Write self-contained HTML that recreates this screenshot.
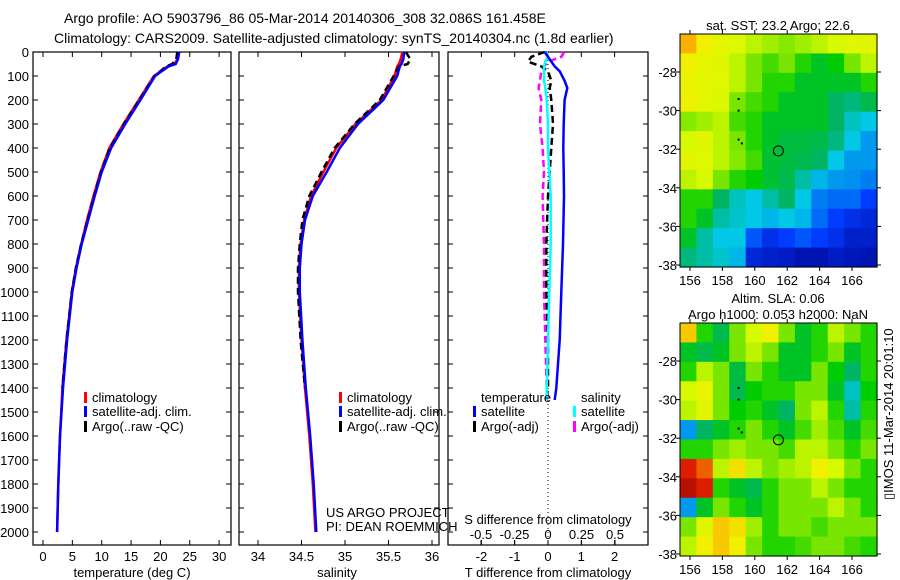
<!DOCTYPE html>
<html><head><meta charset="utf-8"><style>
body{margin:0;background:#fff}
svg{display:block;font-family:"Liberation Sans",sans-serif;font-size:13px}
</style></head><body>
<svg id="fig" width="900" height="580" viewBox="0 0 900 580">
<rect width="900" height="580" fill="#fff"/>
<text x="64" y="23" style="font-size:14px">Argo profile: AO 5903796_86 05-Mar-2014 20140306_308 32.086S 161.458E</text>
<text x="54" y="43" style="font-size:14px">Climatology: CARS2009. Satellite-adjusted climatology: synTS_20140304.nc (1.8d earlier)</text>
<g id="p1"></g>
<g id="p2"></g>
<g id="p3"></g>
<g id="m1"></g>
<g id="m2"></g>
<text transform="translate(893,500) rotate(-90)">▯IMOS 11-Mar-2014 20:01:10</text>
</svg>
<script>
// ---- data ----
const depths = [0,30,50,60,100,200,300,400,500,600,700,800,900,1000,1200,1400,1600,1800,2000];
const tempClim = [23.0,22.9,22.4,21.2,18.9,16.3,13.7,11.3,9.8,8.6,7.5,6.5,5.6,4.9,4.0,3.3,2.9,2.6,2.4];
const tempSat  = [23.2,23.0,22.6,21.4,19.1,16.6,14.0,11.6,10.0,8.8,7.7,6.6,5.7,5.0,4.1,3.4,2.9,2.6,2.4];
const tempArgo = [22.9,22.7,22.0,21.0,19.0,16.4,13.8,11.4,9.9,8.7,7.6,6.5,5.6,4.9,4.0,3.3];
const salClim = [35.66,35.64,35.62,35.60,35.57,35.42,35.12,34.90,34.75,34.61,34.53,34.49,34.47,34.47,34.50,34.54,34.59,34.63,34.66];
const salSat  = [35.68,35.67,35.65,35.63,35.60,35.44,35.15,34.94,34.79,34.63,34.54,34.50,34.48,34.48,34.51,34.55,34.60,34.64,34.67];
const salArgo = [35.70,35.75,35.72,35.62,35.56,35.40,35.11,34.88,34.73,34.59,34.51,34.48,34.46,34.46,34.49,34.54];
const diffDepths = [0,20,40,60,80,120,150,200,300,400,500,600,800,1000,1200,1400,1450];
const dTsat  = [-0.1,0.0,0.1,0.2,0.35,0.5,0.58,0.5,0.47,0.46,0.47,0.48,0.45,0.4,0.35,0.25,0.2];
const dTargo = [-0.1,-0.5,-0.6,-0.2,0.0,0.1,0.05,0.1,0.15,0.1,0.05,0.0,-0.05,-0.05,0.0,0.0,-0.05];
const dSsat  = [-0.01,0.0,-0.02,-0.03,-0.03,-0.03,-0.02,-0.01,0.0,0.0,0.01,0.02,0.02,0.01,0.0,-0.01,-0.01];
const dSargo = [0.12,0.1,0.0,-0.03,-0.05,-0.06,-0.07,-0.05,-0.06,-0.04,-0.03,-0.04,-0.03,-0.03,-0.02,-0.01,0.0];
const depthTicks = [0,100,200,300,400,500,600,700,800,900,1000,1100,1200,1300,1400,1500,1600,1700,1800,1900,2000];
const tempTicks = [0,5,10,15,20,25,30];
const salTicks = [34,34.5,35,35.5,36];
const salTickLabels = ["34","34.5","35","35.5","36"];
const dTTicks = [-2,-1,0,1,2];
const dSTicks = [-0.5,-0.25,0,0.25,0.5];
const dSTickLabels = ["-0.5","-0.25","0","0.25","0.5"];
const lonTicks = [156,158,160,162,164,166];
const latTicks = [-28,-30,-32,-34,-36,-38];
const sstGrid = [
[.78,.7,.66,.64,.6,.58,.56,.58,.6,.62,.64,.65],
[.7,.66,.65,.6,.55,.52,.55,.5,.45,.48,.55,.6],
[.68,.66,.64,.6,.55,.5,.5,.45,.45,.45,.45,.5],
[.7,.66,.63,.55,.52,.5,.45,.45,.45,.4,.38,.42],
[.56,.58,.6,.52,.5,.45,.45,.45,.45,.4,.33,.3],
[.62,.65,.6,.55,.5,.45,.43,.43,.42,.38,.3,.25],
[.65,.64,.6,.56,.52,.44,.43,.42,.4,.3,.25,.25],
[.6,.62,.55,.5,.48,.44,.42,.35,.28,.25,.24,.22],
[.5,.5,.4,.33,.3,.35,.4,.3,.22,.2,.2,.15],
[.5,.45,.35,.32,.3,.28,.3,.28,.2,.15,.12,.1],
[.45,.35,.3,.3,.18,.12,.15,.18,.15,.12,.08,.08],
[.38,.35,.32,.28,.1,.08,.07,.05,.05,.07,.06,.05]];
const slaGrid = [
[.75,.5,.42,.55,.62,.7,.55,.45,.5,.6,.55,.5],
[.45,.42,.45,.55,.6,.55,.45,.45,.5,.55,.45,.5],
[.5,.6,.55,.43,.55,.5,.45,.45,.55,.48,.4,.5],
[.62,.68,.55,.42,.48,.5,.5,.55,.55,.45,.33,.48],
[.6,.65,.55,.48,.5,.45,.4,.55,.6,.5,.35,.5],
[.25,.4,.45,.5,.55,.5,.45,.52,.58,.52,.45,.52],
[.5,.5,.55,.58,.55,.55,.52,.6,.6,.55,.5,.55],
[.9,.85,.6,.72,.6,.55,.58,.6,.7,.62,.55,.5],
[.95,.9,.5,.45,.42,.5,.55,.55,.6,.55,.5,.5],
[.25,.45,.55,.5,.45,.5,.55,.55,.55,.6,.55,.5],
[.55,.65,.75,.72,.58,.5,.55,.55,.52,.55,.55,.55],
[.6,.7,.75,.7,.55,.5,.5,.52,.55,.55,.52,.5]];
const floatLon = [161.458];
const floatLat = [-32.086];
const trackLon = [159.0,159.0,159.0,159.2];
const trackLat = [-29.4,-30.0,-31.5,-31.7];

// ---- helpers ----
const NS="http://www.w3.org/2000/svg";
function mk(parent,tag,attrs,text){const e=document.createElementNS(NS,tag);for(const k in attrs)e.setAttribute(k,attrs[k]);if(text!==undefined)e.textContent=text;parent.appendChild(e);return e;}
const Y0=52,Y1=545;
const yDepth=d=>Y0+d*0.24;
function frame(g,x0,x1,y0,y1){const r=mk(g,'rect',{x:x0,y:y0,width:x1-x0,height:y1-y0,fill:'none',stroke:'#000','stroke-width':1.2});}
function depthAxis(g,x0,x1,labels){
  depthTicks.forEach(d=>{const y=yDepth(d);
    mk(g,'line',{x1:x0,x2:x0+5,y1:y,y2:y,stroke:'#000'});mk(g,'line',{x1:x1,x2:x1-5,y1:y,y2:y,stroke:'#000'});
    if(labels){const t=mk(g,'text',{x:x0-4,y:y+5,'text-anchor':'end'},d);}
  });
}
function xTicks(g,vals,labs,sx,y,labY,top){
  vals.forEach((v,i)=>{const x=sx(v);mk(g,'line',{x1:x,x2:x,y1:y,y2:y-5,stroke:'#000'});if(top!==undefined)mk(g,'line',{x1:x,x2:x,y1:top,y2:top+5,stroke:'#000'});
    if(labY){const t=mk(g,'text',{x:x,y:labY,'text-anchor':'middle'},labs[i]);}});
}
function line(g,xs,ds,sx,color,dash,name,w){
  const pts=xs.map((v,i)=>sx(v).toFixed(1)+','+yDepth(ds[i]).toFixed(1)).join(' ');
  const p=mk(g,'polyline',{points:pts,fill:'none',stroke:color,'stroke-width':w||2.5});
  if(dash)p.setAttribute('stroke-dasharray',dash);
  
  
}
function legend(g,x,y,color,label){
  mk(g,'rect',{x:x,y:y-10,width:3,height:11,fill:color});
  const t=mk(g,'text',{x:x+8,y:y},label);
  
  
}

// ---- panel 1 ----
const g1=document.getElementById('p1');
const sT=v=>43+v*5.87;
frame(g1,33,231,Y0,Y1);depthAxis(g1,33,231,true);
xTicks(g1,tempTicks,tempTicks,sT,Y1,561,Y0);
mk(g1,'text',{x:132,y:577,'text-anchor':'middle'},'temperature (deg C)');
line(g1,tempClim,depths,sT,'#f00',null,'temperature-climatology-line');
line(g1,tempArgo,depths.slice(0,tempArgo.length),sT,'#000','7,4','temperature-argo-line');
line(g1,tempSat,depths,sT,'#00f',null,'temperature-satellite-line');
legend(g1,84,402,'#f00','climatology');legend(g1,84,416,'#00f','satellite-adj. clim.');legend(g1,84,431,'#000','Argo(..raw -QC)');

// ---- panel 2 ----
const g2=document.getElementById('p2');
const sS=v=>258+(v-34)*87;
frame(g2,239,439,Y0,Y1);depthAxis(g2,239,439,false);
xTicks(g2,salTicks,salTickLabels,sS,Y1,561,Y0);
mk(g2,'text',{x:337,y:577,'text-anchor':'middle'},'salinity');
line(g2,salClim,depths,sS,'#f00',null,'salinity-climatology-line');
line(g2,salArgo,depths.slice(0,salArgo.length),sS,'#000','7,4','salinity-argo-line');
line(g2,salSat,depths,sS,'#00f',null,'salinity-satellite-line');
legend(g2,339,402,'#f00','climatology');legend(g2,339,416,'#00f','satellite-adj. clim.');legend(g2,339,431,'#000','Argo(..raw -QC)');
mk(g2,'text',{x:326,y:517},'US ARGO PROJECT');
mk(g2,'text',{x:326,y:531},'PI: DEAN ROEMMICH');

// ---- panel 3 ----
const g3=document.getElementById('p3');
const sDT=v=>548+v*33.3, sDS=v=>548+v*134;
frame(g3,448,648,Y0,Y1);depthAxis(g3,448,648,false);
xTicks(g3,dTTicks,dTTicks,sDT,Y1,561,Y0);
xTicks(g3,dSTicks,dSTickLabels,sDS,Y1,539);
mk(g3,'text',{x:548,y:524,'text-anchor':'middle'},'S difference from climatology');
mk(g3,'text',{x:548,y:577,'text-anchor':'middle'},'T difference from climatology');
mk(g3,'line',{x1:548,x2:548,y1:Y0,y2:Y1,stroke:'#000','stroke-dasharray':'1,3'});
line(g3,dSargo,diffDepths,sDS,'#f0f','7,4','salinity-argo-diff-line');
line(g3,dTargo,diffDepths,sDT,'#000','7,4','temperature-argo-diff-line');
line(g3,dSsat,diffDepths,sDS,'#0ff',null,'salinity-satellite-diff-line');
line(g3,dTsat,diffDepths,sDT,'#00f',null,'temperature-satellite-diff-line');
mk(g3,'text',{x:481,y:402},'temperature');mk(g3,'text',{x:581,y:402},'salinity');
legend(g3,473,416,'#00f','satellite');legend(g3,473,431,'#000','Argo(-adj)');
legend(g3,573,416,'#0ff','satellite');legend(g3,573,431,'#f0f','Argo(-adj)');

// ---- maps ----
const cmapStops=[[0,0,0,140],[0.15,0,60,255],[0.3,0,200,230],[0.4,0,180,100],[0.48,0,205,0],[0.55,120,230,0],[0.62,215,250,0],[0.7,240,240,0],[0.8,255,160,0],[0.9,220,30,0],[1,150,0,0]];
function cmap(v){v=Math.max(0,Math.min(1,v));
  for(let i=1;i<cmapStops.length;i++){const a=cmapStops[i-1],b=cmapStops[i];
    if(v<=b[0]){const t=(v-a[0])/(b[0]-a[0]);return 'rgb('+[1,2,3].map(k=>Math.round(a[k]+(b[k]-a[k])*t)).join(',')+')';}}
  return 'rgb(150,0,0)';}
function map(g,grid,top,titles){
  const L=680,R=877,T=top,B=top+233;
  const sx=v=>690+(v-156)*16.2, sy=v=>T+38+(-28-v)*19.3;
  const nr=grid.length,nc=grid[0].length,cw=(R-L)/nc,ch=(B-T)/nr;
  grid.forEach((row,i)=>row.forEach((v,j)=>{
    const c=mk(g,'rect',{x:L+j*cw,y:T+i*ch,width:cw+0.6,height:ch+0.6,fill:cmap(v)});
    
    
  }));
  mk(g,'rect',{x:L,y:T,width:R-L,height:B-T,fill:'none',stroke:'#000'});
  lonTicks.forEach(v=>{const x=sx(v);mk(g,'line',{x1:x,x2:x,y1:B,y2:B+4,stroke:'#000'});mk(g,'line',{x1:x,x2:x,y1:T,y2:T-4,stroke:'#000'});
    mk(g,'text',{x:x,y:B+18,'text-anchor':'middle'},v);});
  latTicks.forEach(v=>{const y=sy(v);mk(g,'line',{x1:L,x2:L-4,y1:y,y2:y,stroke:'#000'});mk(g,'line',{x1:R,x2:R+4,y1:y,y2:y,stroke:'#000'});
    mk(g,'text',{x:L-3,y:y+5,'text-anchor':'end'},v);});
  trackLon.forEach((v,i)=>{const d=mk(g,'rect',{x:sx(v)-1,y:sy(trackLat[i])-1,width:2,height:2,fill:'#000'});});
  const c=mk(g,'circle',{cx:sx(floatLon[0]),cy:sy(floatLat[0]),r:5,fill:'none',stroke:'#000'});
  
  
  titles.forEach((t,i)=>{const e=mk(g,'text',{x:778,y:top-16*(titles.length-i)+12,'text-anchor':'middle'},t);});
}
map(document.getElementById('m1'),sstGrid,34,['sat. SST: 23.2 Argo: 22.6']);
map(document.getElementById('m2'),slaGrid,323,['Altim. SLA: 0.06','Argo h1000: 0.053 h2000: NaN']);
</script>
</body></html>
